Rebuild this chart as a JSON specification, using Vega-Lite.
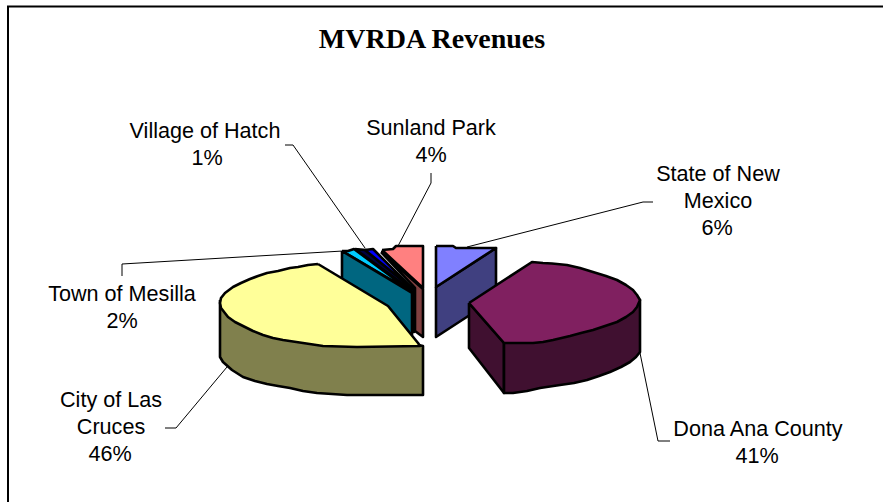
{
"$schema":"https://vega.github.io/schema/vega-lite/v6.json",
"width":883,"height":502,"padding":0,"autosize":{"type":"none"},
"background":"white","config":{"view":{"stroke":null}},
"datasets":{
"faces":[
{"face":"Sunland Park side","i":0,"x":381,"y":252},{"face":"Sunland Park side","i":1,"x":423,"y":289},{"face":"Sunland Park side","i":2,"x":423,"y":337},{"face":"Sunland Park side","i":3,"x":415,"y":331},{"face":"Sunland Park side","i":4,"x":415,"y":288},{"face":"Sunland Park side","i":5,"x":381,"y":252},
{"face":"Sunland Park top","i":0,"x":382,"y":250},{"face":"Sunland Park top","i":1,"x":393,"y":249},{"face":"Sunland Park top","i":2,"x":396,"y":246},{"face":"Sunland Park top","i":3,"x":423,"y":246},{"face":"Sunland Park top","i":4,"x":423,"y":288},{"face":"Sunland Park top","i":5,"x":382,"y":250},
{"face":"Village of Hatch side","i":0,"x":355,"y":249},{"face":"Village of Hatch side","i":1,"x":366,"y":250},{"face":"Village of Hatch side","i":2,"x":414,"y":290},{"face":"Village of Hatch side","i":3,"x":414,"y":332},{"face":"Village of Hatch side","i":4,"x":411,"y":332},{"face":"Village of Hatch side","i":5,"x":411,"y":290},{"face":"Village of Hatch side","i":6,"x":355,"y":249},
{"face":"Village of Hatch top","i":0,"x":365,"y":250},{"face":"Village of Hatch top","i":1,"x":373,"y":249},{"face":"Village of Hatch top","i":2,"x":413,"y":289},{"face":"Village of Hatch top","i":3,"x":365,"y":250},
{"face":"Town of Mesilla top","i":0,"x":342,"y":251},{"face":"Town of Mesilla top","i":1,"x":348,"y":251},{"face":"Town of Mesilla top","i":2,"x":354,"y":249},{"face":"Town of Mesilla top","i":3,"x":412,"y":292},{"face":"Town of Mesilla top","i":4,"x":342,"y":251},
{"face":"Town of Mesilla side","i":0,"x":342,"y":251},{"face":"Town of Mesilla side","i":1,"x":412,"y":293},{"face":"Town of Mesilla side","i":2,"x":412,"y":335},{"face":"Town of Mesilla side","i":3,"x":342,"y":300},{"face":"Town of Mesilla side","i":4,"x":342,"y":251},
{"face":"State of New Mexico side","i":0,"x":436,"y":287},{"face":"State of New Mexico side","i":1,"x":496,"y":248},{"face":"State of New Mexico side","i":2,"x":496,"y":298},{"face":"State of New Mexico side","i":3,"x":436,"y":337},{"face":"State of New Mexico side","i":4,"x":436,"y":287},
{"face":"State of New Mexico top","i":0,"x":436,"y":246},{"face":"State of New Mexico top","i":1,"x":453,"y":246},{"face":"State of New Mexico top","i":2,"x":456,"y":248},{"face":"State of New Mexico top","i":3,"x":496,"y":248},{"face":"State of New Mexico top","i":4,"x":436,"y":287},{"face":"State of New Mexico top","i":5,"x":436,"y":246},
{"face":"City of Las Cruces side","i":0,"x":220,"y":300},{"face":"City of Las Cruces side","i":1,"x":220,"y":357},{"face":"City of Las Cruces side","i":2,"x":223,"y":362},{"face":"City of Las Cruces side","i":3,"x":232,"y":370},{"face":"City of Las Cruces side","i":4,"x":243,"y":377},{"face":"City of Las Cruces side","i":5,"x":255,"y":381},{"face":"City of Las Cruces side","i":6,"x":267,"y":384},{"face":"City of Las Cruces side","i":7,"x":278,"y":386},{"face":"City of Las Cruces side","i":8,"x":290,"y":388},{"face":"City of Las Cruces side","i":9,"x":303,"y":391},{"face":"City of Las Cruces side","i":10,"x":317,"y":393},{"face":"City of Las Cruces side","i":11,"x":332,"y":394},{"face":"City of Las Cruces side","i":12,"x":347,"y":395},{"face":"City of Las Cruces side","i":13,"x":423,"y":395},{"face":"City of Las Cruces side","i":14,"x":423,"y":346},{"face":"City of Las Cruces side","i":15,"x":220,"y":300},
{"face":"City of Las Cruces top","i":0,"x":318,"y":264},{"face":"City of Las Cruces top","i":1,"x":308,"y":265},{"face":"City of Las Cruces top","i":2,"x":298,"y":267},{"face":"City of Las Cruces top","i":3,"x":290,"y":268},{"face":"City of Las Cruces top","i":4,"x":278,"y":271},{"face":"City of Las Cruces top","i":5,"x":267,"y":273},{"face":"City of Las Cruces top","i":6,"x":258,"y":276},{"face":"City of Las Cruces top","i":7,"x":250,"y":279},{"face":"City of Las Cruces top","i":8,"x":241,"y":283},{"face":"City of Las Cruces top","i":9,"x":233,"y":287},{"face":"City of Las Cruces top","i":10,"x":225,"y":293},{"face":"City of Las Cruces top","i":11,"x":221,"y":298},{"face":"City of Las Cruces top","i":12,"x":220,"y":303},{"face":"City of Las Cruces top","i":13,"x":221,"y":308},{"face":"City of Las Cruces top","i":14,"x":228,"y":317},{"face":"City of Las Cruces top","i":15,"x":235,"y":322},{"face":"City of Las Cruces top","i":16,"x":243,"y":326},{"face":"City of Las Cruces top","i":17,"x":253,"y":331},{"face":"City of Las Cruces top","i":18,"x":263,"y":335},{"face":"City of Las Cruces top","i":19,"x":273,"y":338},{"face":"City of Las Cruces top","i":20,"x":283,"y":340},{"face":"City of Las Cruces top","i":21,"x":303,"y":343},{"face":"City of Las Cruces top","i":22,"x":323,"y":346},{"face":"City of Las Cruces top","i":23,"x":357,"y":347},{"face":"City of Las Cruces top","i":24,"x":420,"y":346},{"face":"City of Las Cruces top","i":25,"x":418,"y":343},{"face":"City of Las Cruces top","i":26,"x":388,"y":306},{"face":"City of Las Cruces top","i":27,"x":318,"y":264},
{"face":"Dona Ana County cut","i":0,"x":469,"y":303},{"face":"Dona Ana County cut","i":1,"x":504,"y":343},{"face":"Dona Ana County cut","i":2,"x":504,"y":393},{"face":"Dona Ana County cut","i":3,"x":469,"y":348},{"face":"Dona Ana County cut","i":4,"x":469,"y":303},
{"face":"Dona Ana County side","i":0,"x":504,"y":343},{"face":"Dona Ana County side","i":1,"x":504,"y":393},{"face":"Dona Ana County side","i":2,"x":513,"y":393},{"face":"Dona Ana County side","i":3,"x":527,"y":391},{"face":"Dona Ana County side","i":4,"x":540,"y":388},{"face":"Dona Ana County side","i":5,"x":560,"y":385},{"face":"Dona Ana County side","i":6,"x":574,"y":383},{"face":"Dona Ana County side","i":7,"x":587,"y":380},{"face":"Dona Ana County side","i":8,"x":599,"y":376},{"face":"Dona Ana County side","i":9,"x":610,"y":372},{"face":"Dona Ana County side","i":10,"x":621,"y":367},{"face":"Dona Ana County side","i":11,"x":630,"y":362},{"face":"Dona Ana County side","i":12,"x":636,"y":357},{"face":"Dona Ana County side","i":13,"x":640,"y":352},{"face":"Dona Ana County side","i":14,"x":640,"y":300},{"face":"Dona Ana County side","i":15,"x":504,"y":343},
{"face":"Dona Ana County top","i":0,"x":469,"y":303},{"face":"Dona Ana County top","i":1,"x":532,"y":262},{"face":"Dona Ana County top","i":2,"x":543,"y":263},{"face":"Dona Ana County top","i":3,"x":552,"y":263.5},{"face":"Dona Ana County top","i":4,"x":567,"y":265},{"face":"Dona Ana County top","i":5,"x":580,"y":268},{"face":"Dona Ana County top","i":6,"x":593,"y":272},{"face":"Dona Ana County top","i":7,"x":606,"y":276},{"face":"Dona Ana County top","i":8,"x":617,"y":280},{"face":"Dona Ana County top","i":9,"x":626,"y":285},{"face":"Dona Ana County top","i":10,"x":633,"y":290},{"face":"Dona Ana County top","i":11,"x":637,"y":295},{"face":"Dona Ana County top","i":12,"x":640,"y":300},{"face":"Dona Ana County top","i":13,"x":637,"y":307},{"face":"Dona Ana County top","i":14,"x":633,"y":312},{"face":"Dona Ana County top","i":15,"x":626,"y":317},{"face":"Dona Ana County top","i":16,"x":617,"y":322},{"face":"Dona Ana County top","i":17,"x":605,"y":326},{"face":"Dona Ana County top","i":18,"x":593,"y":330},{"face":"Dona Ana County top","i":19,"x":581,"y":333},{"face":"Dona Ana County top","i":20,"x":570,"y":336},{"face":"Dona Ana County top","i":21,"x":553,"y":340},{"face":"Dona Ana County top","i":22,"x":543,"y":342},{"face":"Dona Ana County top","i":23,"x":533,"y":343},{"face":"Dona Ana County top","i":24,"x":504,"y":343},{"face":"Dona Ana County top","i":25,"x":469,"y":303}
],
"leaders":[
{"name":"Village of Hatch","i":0,"x":285,"y":145},{"name":"Village of Hatch","i":1,"x":293,"y":145},{"name":"Village of Hatch","i":2,"x":365,"y":248},
{"name":"Sunland Park","i":0,"x":431,"y":173},{"name":"Sunland Park","i":1,"x":431,"y":183},{"name":"Sunland Park","i":2,"x":398,"y":246},
{"name":"Town of Mesilla","i":0,"x":122,"y":276},{"name":"Town of Mesilla","i":1,"x":122,"y":264},{"name":"Town of Mesilla","i":2,"x":343,"y":251},
{"name":"State of New Mexico","i":0,"x":653,"y":202},{"name":"State of New Mexico","i":1,"x":643,"y":202},{"name":"State of New Mexico","i":2,"x":467,"y":247},
{"name":"Dona Ana County","i":0,"x":640,"y":353},{"name":"Dona Ana County","i":1,"x":658,"y":441},{"name":"Dona Ana County","i":2,"x":670,"y":441},
{"name":"City of Las Cruces","i":0,"x":227,"y":367},{"name":"City of Las Cruces","i":1,"x":176,"y":428},{"name":"City of Las Cruces","i":2,"x":165,"y":428},
{"name":"frame","i":0,"x":8,"y":502},{"name":"frame","i":1,"x":8,"y":6.5},{"name":"frame","i":2,"x":883,"y":6.5}
],
"labels":[
{"t":"Village of Hatch","x":205,"y":138},{"t":"1%","x":207,"y":165},
{"t":"Sunland Park","x":431,"y":135},{"t":"4%","x":431,"y":162},
{"t":"State of New","x":718,"y":181},{"t":"Mexico","x":718,"y":208},{"t":"6%","x":717,"y":235},
{"t":"Dona Ana County","x":758,"y":436},{"t":"41%","x":757,"y":463},
{"t":"Town of Mesilla","x":122,"y":301},{"t":"2%","x":122,"y":328},
{"t":"City of Las","x":111,"y":407},{"t":"Cruces","x":111,"y":434},{"t":"46%","x":110,"y":461}
],
"title":[{"t":"MVRDA Revenues","x":432,"y":48}]
},
"layer":[
{"data":{"name":"faces"},
 "mark":{"type":"line","stroke":"black","strokeWidth":2.6,"strokeJoin":"round","interpolate":"linear","clip":false},
 "encoding":{
  "x":{"field":"x","type":"quantitative","scale":{"domain":[0,883]},"axis":null},
  "y":{"field":"y","type":"quantitative","scale":{"domain":[502,0]},"axis":null},
  "order":{"field":"i","type":"quantitative"},
  "detail":{"field":"face"},
  "fill":{"field":"face","type":"nominal","legend":null,"sort":null,"scale":{
   "domain":["Sunland Park side","Sunland Park top","Village of Hatch side","Village of Hatch top","Town of Mesilla top","Town of Mesilla side","State of New Mexico side","State of New Mexico top","City of Las Cruces side","City of Las Cruces top","Dona Ana County cut","Dona Ana County side","Dona Ana County top"],
   "range":["#804040","#FF8080","#000040","#0000FF","#00CCFF","#006680","#404080","#8080FF","#80804D","#FFFF99","#401030","#401030","#802060"]}}
 }},
{"data":{"name":"leaders"},
 "mark":{"type":"line","stroke":"black","interpolate":"linear"},
 "encoding":{
  "x":{"field":"x","type":"quantitative","scale":{"domain":[0,883]},"axis":null},
  "y":{"field":"y","type":"quantitative","scale":{"domain":[502,0]},"axis":null},
  "order":{"field":"i","type":"quantitative"},
  "detail":{"field":"name"},
  "strokeWidth":{"condition":{"test":"datum.name==='frame'","value":2},"value":1}
 }},
{"data":{"name":"labels"},
 "mark":{"type":"text","font":"Liberation Sans","fontSize":21.6,"align":"center","baseline":"alphabetic","color":"black"},
 "encoding":{
  "x":{"field":"x","type":"quantitative","scale":{"domain":[0,883]},"axis":null},
  "y":{"field":"y","type":"quantitative","scale":{"domain":[502,0]},"axis":null},
  "text":{"field":"t"}
 }},
{"data":{"name":"title"},
 "mark":{"type":"text","font":"Liberation Serif","fontWeight":"bold","fontSize":28,"align":"center","baseline":"alphabetic","color":"black"},
 "encoding":{
  "x":{"field":"x","type":"quantitative","scale":{"domain":[0,883]},"axis":null},
  "y":{"field":"y","type":"quantitative","scale":{"domain":[502,0]},"axis":null},
  "text":{"field":"t"}
 }}
]
}
